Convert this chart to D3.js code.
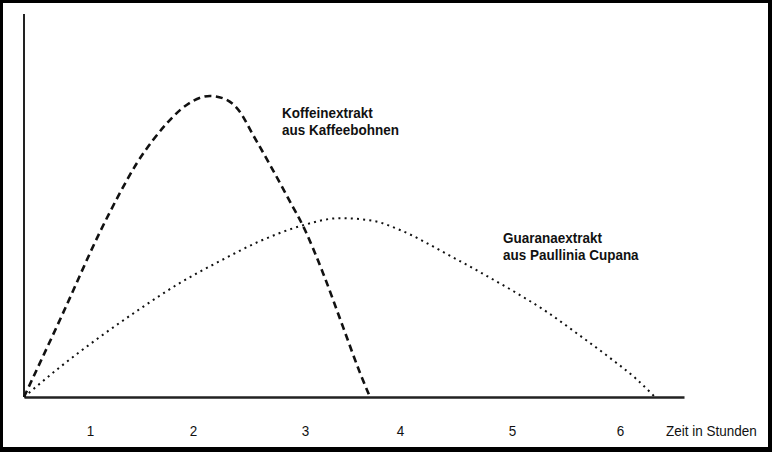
<!DOCTYPE html>
<html>
<head>
<meta charset="utf-8">
<script src="https://cdn.jsdelivr.net/npm/d3@7"></script>
<style>
  body { margin: 0; background: #fff; }
  text { font-family: "Liberation Sans", Arial, sans-serif; fill: #111; }
</style>
</head>
<body>
<svg id="chart"></svg>
<script>
// hours shown under the axis
const hourTicks = [1, 2, 3, 4, 5, 6];
const xAxisTitle = "Zeit in Stunden";

// [hour, relative level]
const koffeinCurve = [
  [0, 0], [0.591, 21.9], [1.097, 43.1], [1.291, 53.3], [1.456, 61.1],
  [1.612, 67.1], [1.748, 71.5], [1.874, 74.9], [2.0, 77.3], [2.152, 78.6],
  [2.286, 77.8], [2.42, 74.4], [2.527, 68.9], [2.688, 60.6], [2.848, 52.0],
  [3.0, 43.6], [3.189, 32.4], [3.4, 18.3], [3.579, 6.3], [3.684, 0]
];
const guaranaCurve = [
  [0, 0], [0.545, 7.8], [1.097, 15.7], [1.485, 23.0], [1.874, 29.8],
  [2.241, 35.5], [2.598, 40.7], [2.955, 44.6], [3.368, 46.7], [3.716, 46.0],
  [4.0, 43.6], [4.42, 37.3], [4.714, 32.6], [5.009, 27.7], [5.324, 22.2],
  [5.611, 16.4], [5.907, 10.2], [6.141, 5.0], [6.328, 0]
];
const koffeinLabel = ["Koffeinextrakt", "aus Kaffeebohnen"];
const guaranaLabel = ["Guaranaextrakt", "aus Paullinia Cupana"];

const W = 772, H = 452;
const svg = d3.select("#chart").attr("width", W).attr("height", H);

// frame
svg.append("rect").attr("width", W).attr("height", H).attr("fill", "#000");
svg.append("rect").attr("x", 3).attr("y", 3)
  .attr("width", W - 7).attr("height", H - 8).attr("fill", "#fff");

// the hour labels are not evenly spaced in the original, so piecewise scale
const x = d3.scaleLinear()
  .domain([0, 1, 2, 3, 4, 5, 6, 6.6])
  .range([24, 90, 193, 305, 400, 512, 620, 684]);
const y = d3.scaleLinear().domain([0, 100]).range([397, 14]);

// y axis (plain line, no ticks)
svg.append("line")
  .attr("x1", x(0)).attr("x2", x(0))
  .attr("y1", y(0)).attr("y2", y(100))
  .attr("stroke", "#222").attr("stroke-width", 2);

// x axis
const xAxisG = svg.append("g")
  .attr("transform", `translate(0,${y(0)})`)
  .call(d3.axisBottom(x).tickValues(hourTicks).tickSize(0).tickPadding(28.5)
    .tickFormat(d3.format("d")));
xAxisG.select(".domain").attr("stroke", "#222").attr("stroke-width", 2.5);
xAxisG.selectAll("text")
  .attr("font-family", "Liberation Sans, Arial, sans-serif")
  .attr("font-size", "14.5px").attr("fill", "#111")
  .attr("transform", "scale(0.93,1)");

svg.append("text")
  .attr("transform", "translate(666,436) scale(0.93,1)")
  .attr("font-size", "14.5px")
  .text(xAxisTitle);

const line = d3.line()
  .x(d => x(d[0]))
  .y(d => y(d[1]))
  .curve(d3.curveMonotoneX);

svg.append("path")
  .datum(guaranaCurve)
  .attr("d", line)
  .attr("fill", "none")
  .attr("stroke", "#111")
  .attr("stroke-width", 2)
  .attr("stroke-dasharray", "2,4.2");

svg.append("path")
  .datum(koffeinCurve)
  .attr("d", line)
  .attr("fill", "none")
  .attr("stroke", "#111")
  .attr("stroke-width", 2.6)
  .attr("stroke-dasharray", "7,4.5");

function addLabel(lines, lx, ly) {
  const t = svg.append("text")
    .attr("transform", `translate(${lx},${ly}) scale(0.93,1)`)
    .attr("font-size", "14.5px")
    .attr("font-weight", "bold");
  lines.forEach((s, i) => {
    t.append("tspan").attr("x", 0).attr("dy", i === 0 ? 0 : 17).text(s);
  });
}
addLabel(koffeinLabel, 282, 118);
addLabel(guaranaLabel, 503, 243);
</script>
</body>
</html>
